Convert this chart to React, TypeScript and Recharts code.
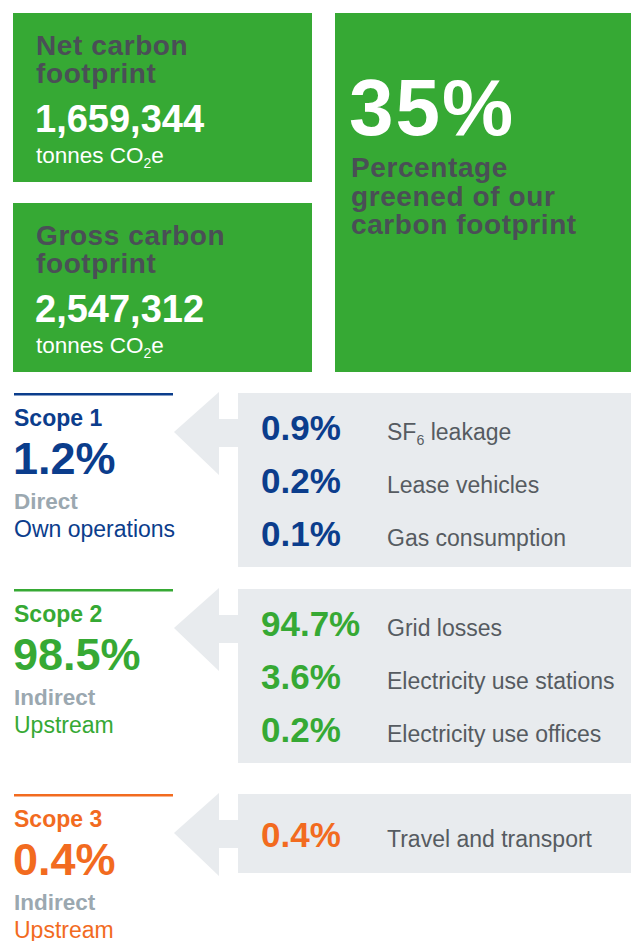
import { Surface, Layer, Rectangle, Polygon, Text } from 'recharts';

// headline figures
const footprintTitles = [
  ['Net carbon', 'footprint'],
  ['Gross carbon', 'footprint'],
];
const footprintTonnes = [1659344, 2547312];
const unitLabel = 'tonnes CO2e';
const greenedShare = 35;
const greenedTitle = ['Percentage', 'greened of our', 'carbon footprint'];

// scopes
const scopeNames = ['Scope 1', 'Scope 2', 'Scope 3'];
const scopeShares = [1.2, 98.5, 0.4];
const scopeTypes = ['Direct', 'Indirect', 'Indirect'];
const scopeReach = ['Own operations', 'Upstream', 'Upstream'];

// emission sources per scope
const sourceScope = [0, 0, 0, 1, 1, 1, 2];
const sourceLabels = [
  'SF6 leakage',
  'Lease vehicles',
  'Gas consumption',
  'Grid losses',
  'Electricity use stations',
  'Electricity use offices',
  'Travel and transport',
];
const sourceShares = [0.9, 0.2, 0.1, 94.7, 3.6, 0.2, 0.4];

const W = 631;
const H = 941;
const FONT = '"Liberation Sans", Arial, Helvetica, sans-serif';
const GREEN = '#36a934';
const DARK = '#4a4f56';
const PANEL = '#e8ebee';
const LABEL = '#565b61';
const MUTED = '#9ba8b0';
const scopeColors = ['#0b3d8c', '#36a934', '#f26b1f'];

const boxTops = [13, 203];
const scopeTops = [394, 590, 795];
const ROW_GAP = 53;
const PANEL_X = 238;

const pct = (v: number) => `${v.toFixed(1)}%`;

function Chem({ x, y, text, size, fill, weight = 400 }: any) {
  // subscript digits that follow a capital letter (CO2, SF6)
  const parts = text.split(/(?<=[A-Z])(\d)/);
  const shift = size * 0.22;
  return (
    <text x={x} y={y} fontSize={size} fill={fill} fontFamily={FONT} fontWeight={weight}>
      {parts.map((p: string, i: number) =>
        i % 2 ? (
          <tspan key={i} fontSize={size * 0.62} dy={shift}>
            {p}
          </tspan>
        ) : (
          <tspan key={i} dy={i ? -shift : 0}>
            {p}
          </tspan>
        ),
      )}
    </text>
  );
}

function FootprintBox({ i }: { i: number }) {
  const top = boxTops[i];
  return (
    <Layer>
      <Rectangle x={13} y={top} width={299} height={169} fill={GREEN} />
      {footprintTitles[i].map((t, j) => (
        <Text key={t} x={36} y={top + 42 + j * 28} fontSize={28} fontWeight={700} fill={DARK} fontFamily={FONT} letterSpacing={0.6}>
          {t}
        </Text>
      ))}
      <Text x={35} y={top + 119} fontSize={38} fontWeight={700} fill="#fff" fontFamily={FONT}>
        {footprintTonnes[i].toLocaleString('en-US')}
      </Text>
      <Chem x={36} y={top + 150} text={unitLabel} size={22.5} fill="#fff" />
    </Layer>
  );
}

function ScopeBlock({ s }: { s: number }) {
  const top = scopeTops[s];
  const color = scopeColors[s];
  const rows = sourceScope.map((sc, i) => (sc === s ? i : -1)).filter((i) => i >= 0);
  const panelH = rows.length > 1 ? 174 : 79;
  const pTop = top - 1;
  const mid = pTop + panelH / 2 + 13;
  const arrow = [
    { x: PANEL_X - 64, y: pTop + 39 },
    { x: PANEL_X - 19, y: pTop - 1 },
    { x: PANEL_X - 19, y: pTop + 26 },
    { x: PANEL_X, y: pTop + 26 },
    { x: PANEL_X, y: pTop + 54 },
    { x: PANEL_X - 19, y: pTop + 54 },
    { x: PANEL_X - 19, y: pTop + 82 },
  ];
  return (
    <Layer>
      <Rectangle x={14} y={top - 1} width={159} height={2.5} fill={color} />
      <Text x={14} y={top + 32} fontSize={23} fontWeight={700} fill={color} fontFamily={FONT}>
        {scopeNames[s]}
      </Text>
      <Text x={13} y={top + 80} fontSize={45} fontWeight={700} fill={color} fontFamily={FONT}>
        {pct(scopeShares[s])}
      </Text>
      <Text x={14} y={top + 115} fontSize={22.5} fontWeight={700} fill={MUTED} fontFamily={FONT}>
        {scopeTypes[s]}
      </Text>
      <Text x={14} y={top + 143} fontSize={23} fill={color} fontFamily={FONT}>
        {scopeReach[s]}
      </Text>
      <Polygon points={arrow} fill={PANEL} stroke="none" />
      <Rectangle x={PANEL_X} y={pTop} width={W - PANEL_X} height={panelH} fill={PANEL} />
      {rows.map((r, k) => {
        const y = mid + (k - (rows.length - 1) / 2) * ROW_GAP;
        return (
          <Layer key={r}>
            <Text x={261} y={y} fontSize={35} fontWeight={700} fill={color} fontFamily={FONT}>
              {pct(sourceShares[r])}
            </Text>
            <Chem x={387} y={y} text={sourceLabels[r]} size={23} fill={LABEL} />
          </Layer>
        );
      })}
    </Layer>
  );
}

export default function App() {
  return (
    <div style={{ position: 'absolute', left: 0, top: 0, width: W, height: H, background: '#fff' }}>
      <Surface width={W} height={H}>
        <FootprintBox i={0} />
        <FootprintBox i={1} />
        <Layer>
          <Rectangle x={335} y={13} width={W - 335} height={359} fill={GREEN} />
          <Text x={349} y={135} fontSize={80} fontWeight={700} fill="#fff" fontFamily={FONT} letterSpacing={2}>
            {`${greenedShare}%`}
          </Text>
          {greenedTitle.map((t, j) => (
            <Text key={t} x={351} y={177 + j * 28.5} fontSize={28} fontWeight={700} fill={DARK} fontFamily={FONT} letterSpacing={0.6}>
              {t}
            </Text>
          ))}
        </Layer>
        {scopeNames.map((_, s) => (
          <ScopeBlock key={s} s={s} />
        ))}
      </Surface>
    </div>
  );
}
